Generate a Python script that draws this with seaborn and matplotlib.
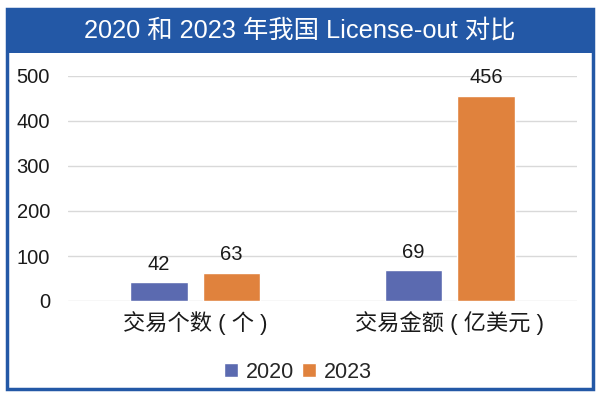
import pandas as pd
import matplotlib.pyplot as plt
import seaborn as sns
from matplotlib.patches import Rectangle

# data
categories = ["交易个数 ( 个 )", "交易金额 ( 亿美元 )"]
years = ["2020", "2023"]
values_2020 = [42, 69]
values_2023 = [63, 456]

df = pd.DataFrame({
    "cat": categories * 2,
    "year": [years[0]] * 2 + [years[1]] * 2,
    "val": values_2020 + values_2023,
})

sns.set_theme(style="white")
plt.rcParams["font.family"] = ["Liberation Sans", "Noto Sans CJK SC"]

fig = plt.figure(figsize=(6, 3.96), dpi=100)
W, H = 600, 396

# frame and title band
frame_blue = "#2358A6"
fig.patches.append(Rectangle((7 / W, 1 - 389 / H), 586 / W, 380 / H, transform=fig.transFigure,
                             facecolor="white", edgecolor=frame_blue, linewidth=2.5, zorder=-2))
fig.patches.append(Rectangle((7 / W, 1 - 53 / H), 586 / W, 44 / H, transform=fig.transFigure,
                             facecolor=frame_blue, edgecolor="none", zorder=-1))
fig.text(0.5, 1 - 31 / H, "2020 和 2023 年我国 License-out 对比", color="white",
         fontsize=18.3, ha="center", va="center")

ax = fig.add_axes([68 / W, 1 - 301 / H, 509 / W, 225 / H])
palette = {"2020": "#5B6AB0", "2023": "#E0823D"}
sns.barplot(data=df, x="cat", y="val", hue="year", palette=palette, width=0.57, gap=0.21,
            saturation=1, ax=ax, legend=True)

for cont in ax.containers:
    ax.bar_label(cont, padding=6, fontsize=14.5, color="#1a1a1a")

ax.set_ylim(0, 500)
ax.set_yticks([0, 100, 200, 300, 400, 500])
ax.grid(axis="y", color="#d9d9d9", linewidth=1)
ax.set_axisbelow(True)
for s in ax.spines.values():
    s.set_visible(False)
ax.tick_params(axis="y", labelsize=14.5, length=0, pad=13, labelcolor="#1a1a1a")
ax.tick_params(axis="x", labelsize=16, length=0, pad=7, labelcolor="#1a1a1a")
ax.set_xlabel("")
ax.set_ylabel("")
ax.patch.set_alpha(0)

handles, labels = ax.get_legend_handles_labels()
ax.legend(handles, labels, loc="center", bbox_to_anchor=((298 - 68) / 509, (301 - 372) / 225),
          ncol=2, frameon=False, fontsize=15.5, handlelength=0.65, handleheight=0.65,
          handletextpad=0.35, columnspacing=0.4)

fig.savefig("out.png", dpi=100)
